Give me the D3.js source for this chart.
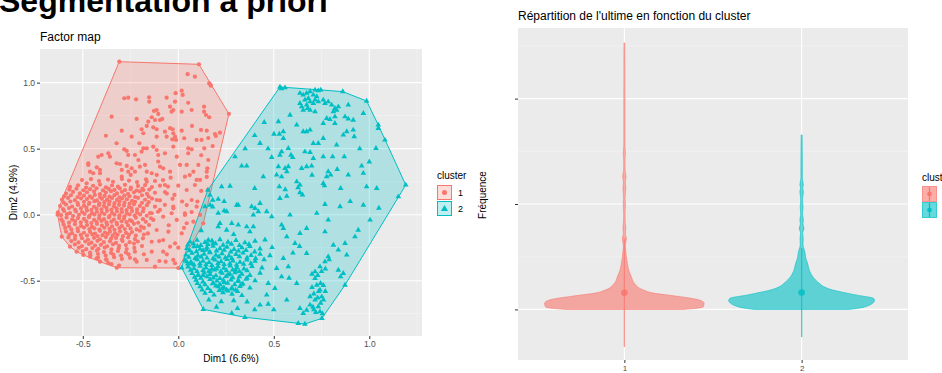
<!DOCTYPE html>
<html><head><meta charset="utf-8">
<script src="https://cdn.jsdelivr.net/npm/d3@7"></script>
<style>body{margin:0;background:#fff;}svg{display:block;font-family:"Liberation Sans",Arial,sans-serif;}</style>
</head><body><svg id="c" width="942" height="373"></svg>
<script>
const pageTitle = "Segmentation a priori";
const leftTitle = "Factor map";
const rightTitle = "Répartition de l'ultime en fonction du cluster";
const clusters = ["1","2"];
const colors = ["#F8766D","#00BFC4"];
const dimXLabel = "Dim1 (6.6%)";
const dimYLabel = "Dim2 (4.9%)";
const freqLabel = "Fréquence";
const xTicks = [-0.5,0,0.5,1.0];
const yTicks = [-0.5,0,0.5,1.0];
const xMinor = [-0.25,0.25,0.75,1.25];
const yMinor = [-0.75,-0.25,0.25,0.75];
const freqTicks = [0,1,2];
const freqMinor = [0.5,1.5,2.5];

const cluster1 = [
[-0.632,0.0],[-0.61,-0.167],[-0.462,-0.318],[-0.322,-0.402],[0.0,-0.404],[0.131,-0.065],[0.155,0.187],[0.265,0.763],[0.166,0.988],[0.108,1.139],[-0.309,1.159],
[0.049,1.064],[0.087,1.045],[0.162,0.995],[0.171,0.977],[-0.283,0.882],[-0.262,0.886],[-0.221,0.874],[-0.153,0.889],[-0.152,0.856],[-0.061,0.886],[-0.014,0.920],[0.018,0.939],[0.023,0.907],[-0.017,0.856],[0.052,0.848],[-0.043,0.818],[-0.026,0.793],[-0.035,0.780],[-0.113,0.793],[-0.127,0.786],[-0.105,0.763],[0.018,0.780],[0.070,0.793],[0.135,0.818],[0.135,0.780],[0.145,0.755],[0.162,0.738],[-0.349,0.742],[-0.218,0.725],[-0.139,0.738],[-0.122,0.717],[-0.096,0.717],[-0.084,0.725],[-0.157,0.705],[-0.165,0.672],[-0.131,0.662],[-0.113,0.647],[-0.070,0.629],[-0.043,0.655],[-0.029,0.647],[-0.026,0.617],[-0.017,0.591],[-0.012,0.566],[-0.031,0.571],[0.018,0.636],[0.072,0.672],[0.119,0.642],[0.149,0.636],[0.192,0.611],[0.197,0.596],[0.218,0.621],[-0.379,0.598],[-0.296,0.636],[-0.244,0.591],[-0.192,0.647],[-0.183,0.617],[-0.113,0.591],[-0.061,0.591],[0.031,0.579],[0.096,0.566],[0.157,0.581],
[-0.323,0.541],[-0.366,0.465],[-0.358,0.439],[-0.419,0.439],[-0.401,0.452],[-0.283,0.495],[-0.270,0.483],[-0.204,0.541],[-0.183,0.503],[-0.192,0.477],[-0.165,0.503],[-0.227,0.452],[-0.209,0.414],[-0.131,0.515],[-0.113,0.490],[-0.105,0.452],[-0.070,0.465],[-0.026,0.515],[-0.008,0.439],[0.052,0.503],[0.070,0.495],[0.052,0.465],[0.136,0.503],
[-0.471,0.389],[-0.427,0.359],[-0.410,0.339],[-0.462,0.326],[-0.445,0.314],[-0.323,0.389],[-0.305,0.384],[-0.296,0.339],[-0.270,0.369],[-0.262,0.326],[-0.249,0.301],[-0.244,0.351],[-0.227,0.326],[-0.201,0.364],[-0.174,0.377],[-0.165,0.326],[-0.139,0.314],[-0.113,0.301],[-0.096,0.364],[-0.079,0.351],[-0.043,0.326],[0.009,0.377],[0.035,0.288],[0.079,0.326],[0.105,0.377],[0.149,0.326],[0.149,0.286],[0.114,0.263],[0.087,0.225],
[0.157,0.414],[0.122,0.566],[0.152,0.351],[0.12,0.45],[0.18,0.52],
[-0.262,0.452],[-0.105,0.402],[0.044,0.377],[-0.471,0.377],[-0.410,0.314],[-0.296,0.288],[-0.515,0.162],[-0.183,0.187],[-0.113,0.111],[-0.026,0.048],[0.035,0.01],
[0.0,0.22],[-0.04,0.28],[0.06,0.3],[0.12,0.18],[0.1,0.1],[0.07,0.02],[-0.06,0.16],[-0.05,-0.08],[0.03,-0.1],[-0.1,-0.2],[-0.06,-0.3],[0.0,-0.25],[-0.18,-0.3],
[-0.504,0.262],[-0.457,0.27],[-0.415,0.255],[-0.368,0.266],[-0.342,0.249],[-0.295,0.27],[-0.258,0.258],[-0.216,0.247],[-0.169,0.268],[-0.122,0.255],[-0.080,0.262],
[-0.480,0.238],[-0.165,0.250],[-0.070,0.225],[0.044,0.187],[0.070,0.111],[0.096,0.263],
[-0.567,0.21],[-0.525,0.222],[-0.483,0.205],[-0.446,0.219],[-0.410,0.228],[-0.379,0.207],[-0.347,0.221],[-0.316,0.212],[-0.279,0.226],[-0.248,0.205],[-0.211,0.218],[-0.174,0.224],[-0.138,0.209],[-0.096,0.22],[-0.054,0.213],
[-0.57,0.19],[-0.533,0.197],[-0.497,0.185],[-0.462,0.193],[-0.428,0.2],[-0.394,0.184],[-0.364,0.195],[-0.334,0.188],[-0.306,0.199],[-0.279,0.186],[-0.25,0.192],[-0.218,0.183],[-0.188,0.197],[-0.152,0.19],
[-0.588,0.16],[-0.551,0.172],[-0.515,0.158],[-0.478,0.17],[-0.441,0.176],[-0.410,0.155],[-0.379,0.168],[-0.352,0.178],[-0.321,0.161],[-0.295,0.173],[-0.263,0.158],[-0.232,0.169],[-0.201,0.176],[-0.164,0.158],[-0.122,0.166],[-0.070,0.171],[-0.02,0.15],
[-0.598,0.138],[-0.562,0.147],[-0.527,0.134],[-0.494,0.144],[-0.463,0.139],[-0.437,0.15],[-0.41,0.133],[-0.386,0.142],[-0.36,0.136],[-0.334,0.148],[-0.308,0.131],[-0.282,0.145],[-0.255,0.14],[-0.226,0.134],[-0.19,0.147],[-0.155,0.137],
[-0.609,0.115],[-0.577,0.127],[-0.541,0.11],[-0.509,0.124],[-0.478,0.118],[-0.452,0.128],[-0.426,0.108],[-0.400,0.121],[-0.373,0.114],[-0.347,0.126],[-0.321,0.112],[-0.295,0.123],[-0.269,0.117],[-0.242,0.105],[-0.211,0.128],[-0.174,0.113],[-0.138,0.122],[-0.096,0.108],[-0.03,0.12],[0.02,0.1],
[-0.6,0.092],[-0.565,0.1],[-0.527,0.088],[-0.494,0.097],[-0.465,0.09],[-0.439,0.102],[-0.413,0.085],[-0.387,0.095],[-0.36,0.099],[-0.334,0.087],[-0.308,0.1],[-0.282,0.091],[-0.255,0.083],[-0.226,0.097],[-0.19,0.09],[-0.155,0.095],
[-0.619,0.065],[-0.588,0.077],[-0.556,0.062],[-0.525,0.074],[-0.494,0.068],[-0.468,0.081],[-0.441,0.06],[-0.415,0.072],[-0.389,0.066],[-0.363,0.078],[-0.337,0.063],[-0.310,0.075],[-0.284,0.069],[-0.258,0.058],[-0.232,0.079],[-0.201,0.066],[-0.164,0.072],[-0.122,0.061],[-0.070,0.075],
[-0.603,0.042],[-0.572,0.05],[-0.54,0.038],[-0.51,0.047],[-0.481,0.053],[-0.455,0.036],[-0.428,0.046],[-0.402,0.041],[-0.376,0.052],[-0.35,0.039],[-0.323,0.048],[-0.297,0.043],[-0.271,0.034],[-0.245,0.05],[-0.216,0.04],[-0.182,0.047],
[-0.630,0.018],[-0.598,0.028],[-0.567,0.012],[-0.536,0.025],[-0.504,0.02],[-0.478,0.031],[-0.452,0.01],[-0.426,0.022],[-0.400,0.016],[-0.373,0.029],[-0.347,0.014],[-0.321,0.026],[-0.295,0.019],[-0.269,0.008],[-0.242,0.027],[-0.216,0.015],[-0.185,0.024],[-0.148,0.012],[-0.106,0.022],
[-0.614,-0.004],[-0.583,0.004],[-0.551,-0.01],[-0.52,-0.001],[-0.491,0.006],[-0.465,-0.008],[-0.439,0.002],[-0.413,-0.006],[-0.386,0.005],[-0.36,-0.009],[-0.334,0.0],[-0.308,-0.005],[-0.282,-0.012],[-0.255,0.003],[-0.229,-0.007],[-0.2,0.002],[-0.165,-0.008],
[-0.612,-0.035],[-0.585,-0.022],[-0.556,-0.038],[-0.525,-0.026],[-0.494,-0.032],[-0.468,-0.019],[-0.441,-0.04],[-0.415,-0.028],[-0.389,-0.034],[-0.363,-0.021],[-0.337,-0.037],[-0.310,-0.025],[-0.284,-0.031],[-0.253,-0.042],[-0.222,-0.023],[-0.185,-0.034],[-0.143,-0.027],
[-0.605,-0.052],[-0.572,-0.06],[-0.54,-0.048],[-0.51,-0.058],[-0.481,-0.051],[-0.455,-0.063],[-0.428,-0.054],[-0.402,-0.047],[-0.376,-0.059],[-0.35,-0.053],[-0.323,-0.062],[-0.297,-0.05],[-0.271,-0.057],[-0.243,-0.049],[-0.21,-0.061],[-0.17,-0.054],
[-0.600,-0.075],[-0.572,-0.088],[-0.541,-0.072],[-0.509,-0.085],[-0.478,-0.079],[-0.452,-0.091],[-0.426,-0.07],[-0.400,-0.083],[-0.373,-0.077],[-0.347,-0.089],[-0.321,-0.074],[-0.295,-0.086],[-0.263,-0.08],[-0.232,-0.069],[-0.195,-0.09],[-0.153,-0.078],
[-0.592,-0.1],[-0.56,-0.112],[-0.527,-0.104],[-0.494,-0.098],[-0.465,-0.11],[-0.439,-0.103],[-0.413,-0.113],[-0.387,-0.099],[-0.36,-0.107],[-0.334,-0.115],[-0.308,-0.101],[-0.28,-0.109],[-0.25,-0.104],[-0.218,-0.112],[-0.18,-0.1],
[-0.588,-0.128],[-0.556,-0.14],[-0.525,-0.125],[-0.494,-0.137],[-0.462,-0.131],[-0.436,-0.143],[-0.410,-0.122],[-0.384,-0.135],[-0.358,-0.129],[-0.331,-0.141],[-0.305,-0.126],[-0.274,-0.138],[-0.242,-0.132],[-0.201,-0.121],[-0.159,-0.142],
[-0.57,-0.15],[-0.54,-0.161],[-0.51,-0.153],[-0.478,-0.158],[-0.45,-0.149],[-0.423,-0.162],[-0.397,-0.155],[-0.37,-0.147],[-0.344,-0.159],[-0.318,-0.152],[-0.29,-0.163],[-0.258,-0.151],[-0.222,-0.158],[-0.18,-0.15],
[-0.575,-0.172],[-0.541,-0.185],[-0.504,-0.178],[-0.473,-0.19],[-0.441,-0.175],[-0.410,-0.186],[-0.379,-0.17],[-0.352,-0.182],[-0.326,-0.176],[-0.295,-0.188],[-0.263,-0.173],[-0.227,-0.185],[-0.185,-0.179],
[-0.56,-0.2],[-0.522,-0.21],[-0.487,-0.203],[-0.455,-0.212],[-0.423,-0.198],[-0.39,-0.208],[-0.358,-0.202],[-0.326,-0.213],[-0.292,-0.2],[-0.255,-0.208],[-0.212,-0.203],
[-0.541,-0.225],[-0.504,-0.238],[-0.468,-0.222],[-0.436,-0.234],[-0.405,-0.228],[-0.373,-0.24],[-0.342,-0.224],[-0.310,-0.236],[-0.274,-0.23],[-0.232,-0.219],[-0.190,-0.238],
[-0.52,-0.25],[-0.482,-0.261],[-0.45,-0.253],[-0.418,-0.258],[-0.385,-0.249],[-0.35,-0.262],[-0.312,-0.255],[-0.27,-0.26],[-0.23,-0.252],
[-0.500,-0.276],[-0.462,-0.288],[-0.426,-0.272],[-0.389,-0.284],[-0.352,-0.29],[-0.316,-0.275],[-0.274,-0.286],[-0.227,-0.28],
[-0.46,-0.305],[-0.42,-0.298],[-0.38,-0.31],[-0.34,-0.302],[-0.3,-0.31],[-0.26,-0.3],
[-0.420,-0.326],[-0.378,-0.338],[-0.336,-0.322],[-0.295,-0.335],[-0.253,-0.327],[-0.350,-0.375],[-0.310,-0.385],
[-0.367,-0.366],[-0.218,-0.356],[-0.227,-0.338],[-0.165,-0.343],[-0.122,-0.394],[-0.099,-0.351],[-0.066,-0.356],[-0.026,-0.343],[-0.017,-0.368],[-0.139,-0.280],[-0.079,-0.280],[-0.043,-0.242],[-0.017,-0.217],[-0.079,-0.192],[-0.139,-0.205],[-0.113,-0.116],[-0.052,-0.129],[0.018,-0.141],[0.044,-0.065],[0.079,-0.053],[0.096,0.061],[0.044,0.073],[-0.026,0.061],[-0.035,0.011],[-0.079,-0.015],[-0.096,0.036],[-0.139,0.011],[-0.131,-0.040],[-0.008,-0.040],[0.035,-0.002],[0.114,-0.002],[-0.532,-0.280],[-0.567,-0.242],[-0.497,-0.305],[-0.427,-0.330],[-0.410,-0.356],[-0.375,-0.343]
];

const cluster2 = [
[0.018,-0.402],[0.155,0.187],[0.532,0.967],[0.559,0.962],[0.861,0.932],[0.986,0.861],[1.047,0.680],[1.191,0.225],[0.752,-0.785],[0.663,-0.828],[0.628,-0.823],[0.349,-0.777],[0.280,-0.747],[0.131,-0.717],
[0.54,0.955],[0.637,0.920],[0.654,0.907],[0.672,0.920],[0.690,0.932],[0.716,0.945],[0.733,0.939],[0.746,0.945],[0.707,0.907],[0.725,0.894],[0.681,0.882],[0.663,0.869],[0.637,0.844],[0.646,0.818],[0.672,0.831],[0.690,0.856],[0.707,0.844],[0.716,0.869],[0.733,0.856],[0.677,0.806],[0.690,0.793],[0.716,0.780],[0.654,0.793],[0.759,0.869],[0.768,0.844],[0.785,0.856],[0.803,0.831],[0.820,0.806],[0.829,0.793],[0.812,0.780],[0.838,0.818],[0.890,0.831],[0.969,0.768],[0.585,0.755],[0.524,0.705],[0.777,0.730],[0.794,0.722],[0.820,0.742],[0.873,0.742],[0.890,0.725],[0.916,0.717],[0.820,0.692],[0.759,0.692],[1.047,0.654],[0.916,0.642],[0.921,0.591],[0.864,0.604],[0.882,0.629],[0.690,0.642],[0.654,0.629],[0.672,0.629],[0.550,0.629],[0.501,0.611],[0.529,0.611],[0.550,0.579],[0.759,0.579],[0.707,0.541],[0.733,0.541],[0.829,0.528],[1.082,0.566],[0.428,0.541],[0.576,0.503],[0.663,0.477],[0.69,0.472],[0.541,0.477],[0.532,0.452],[0.590,0.452],[0.599,0.434],[0.489,0.434],[0.707,0.427],[0.759,0.439],[0.808,0.439],[0.869,0.439],[1.035,0.503],[0.332,0.369],[0.358,0.369],[0.297,0.439],[0.524,0.364],[0.559,0.351],[0.576,0.364],[0.646,0.351],[0.672,0.364],[0.698,0.369],[0.445,0.288],[0.515,0.301],[0.541,0.288],[0.568,0.326],[0.785,0.326],[0.798,0.301],[0.777,0.288],[0.832,0.344],[0.890,0.301],[0.960,0.369],[0.969,0.314],[0.759,0.238],[0.765,0.22],[0.637,0.225],[0.627,0.205],[0.986,0.212],[1.039,0.200],[1.152,0.136],[0.227,0.212],[0.271,0.217],[0.166,0.149],[0.18,0.11],[0.209,0.117],[0.24,0.1],[0.314,0.073],[0.384,0.061],[0.428,0.086],[0.529,0.212],[0.56,0.19],[0.532,0.124],[0.568,0.14],[0.62,0.25],[0.637,0.167],[0.65,0.15],[0.768,0.079],[0.969,0.073],
[0.45,0.7],[0.62,0.68],[0.4,0.6],[0.35,0.5],[0.47,0.5],[0.95,0.5],[1.0,0.4],[0.4,0.2],[0.7,0.3],[0.85,0.2],[0.9,0.1],[1.05,0.05],
[0.166,0.073],[0.209,0.011],[0.253,0.023],[0.306,0.073],[0.218,-0.065],[0.280,-0.065],[0.314,-0.078],[0.358,-0.091],[0.393,-0.091],[0.375,-0.129],[0.402,0.048],[0.419,0.023],[0.393,-0.002],[0.463,0.023],[0.489,-0.015],[0.541,-0.078],[0.550,-0.103],[0.585,-0.002],[0.637,-0.141],[0.672,-0.103],[0.725,0.011],[0.768,-0.129],[0.785,-0.040],[0.847,0.061],[0.925,-0.167],[0.942,-0.116],[1.004,-0.040],[0.157,-0.192],
[0.812,-0.230],[0.838,-0.267],[0.873,-0.217],[0.882,-0.305],[0.785,-0.318],[0.768,-0.356],[0.79,-0.34],[0.742,-0.394],[0.716,-0.432],[0.75,-0.43],[0.77,-0.41],[0.838,-0.419],[0.864,-0.444],[0.85,-0.47],[0.873,-0.533],[0.716,-0.482],[0.725,-0.533],[0.745,-0.52],[0.76,-0.535],[0.742,-0.570],[0.77,-0.58],[0.751,-0.621],[0.716,-0.646],[0.76,-0.645],[0.690,-0.684],[0.705,-0.70],[0.733,-0.697],[0.742,-0.735],[0.755,-0.75],[0.72,-0.74],[0.672,-0.722],[0.637,-0.709],[0.654,-0.747],
[0.70,-0.45],[0.73,-0.46],[0.70,-0.55],[0.735,-0.58],[0.71,-0.6],[0.73,-0.63],[0.745,-0.67],[0.71,-0.72],[0.69,-0.62],
[0.568,-0.167],[0.611,-0.217],[0.635,-0.24],[0.672,-0.293],[0.60,-0.29],[0.550,-0.330],[0.576,-0.394],[0.515,-0.406],[0.541,-0.470],[0.58,-0.48],[0.620,-0.520],[0.471,-0.520],[0.506,-0.558],[0.463,-0.608],[0.568,-0.646],[0.428,-0.684],[0.471,-0.677],[0.5,-0.72],[0.4,-0.72],
[0.044,-0.356],[0.07,-0.37],[0.096,-0.330],[0.149,-0.267],[0.10,-0.24],[0.183,-0.217],[0.209,-0.091],[0.253,-0.116],[0.29,-0.15],[0.12,-0.12],[0.140,0.061],[0.18,0.06],[0.24,0.03],[0.105,-0.457],[0.13,-0.46],[0.166,-0.432],[0.2,-0.41],[0.236,-0.495],[0.27,-0.45],[0.30,-0.42],[0.314,-0.495],[0.183,-0.520],[0.209,-0.545],[0.23,-0.56],[0.253,-0.570],[0.28,-0.555],[0.31,-0.58],[0.33,-0.53],
[0.061,-0.205],[0.098,-0.192],[0.140,-0.21],[0.176,-0.198],[0.218,-0.188],[0.260,-0.207],[0.302,-0.195],[0.349,-0.212],[0.402,-0.2],[0.454,-0.19],
[0.05,-0.228],[0.08,-0.22],[0.118,-0.232],[0.155,-0.224],[0.195,-0.219],[0.235,-0.23],[0.278,-0.222],[0.32,-0.233],[0.37,-0.225],
[0.045,-0.255],[0.082,-0.242],[0.114,-0.26],[0.150,-0.248],[0.182,-0.238],[0.218,-0.257],[0.255,-0.245],[0.292,-0.262],[0.333,-0.25],[0.375,-0.24],[0.428,-0.258],[0.491,-0.248],
[0.06,-0.272],[0.095,-0.28],[0.13,-0.27],[0.165,-0.283],[0.2,-0.274],[0.24,-0.268],[0.275,-0.281],[0.315,-0.275],[0.355,-0.27],[0.4,-0.282],
[0.040,-0.305],[0.072,-0.292],[0.103,-0.31],[0.135,-0.298],[0.166,-0.288],[0.197,-0.307],[0.229,-0.295],[0.265,-0.312],[0.302,-0.3],[0.339,-0.29],[0.381,-0.308],[0.428,-0.298],[0.480,-0.31],
[0.055,-0.322],[0.088,-0.33],[0.12,-0.319],[0.15,-0.328],[0.182,-0.332],[0.213,-0.32],[0.246,-0.327],[0.28,-0.33],[0.32,-0.318],[0.36,-0.327],[0.405,-0.33],
[0.035,-0.345],[0.066,-0.358],[0.098,-0.34],[0.129,-0.352],[0.161,-0.362],[0.192,-0.343],[0.224,-0.355],[0.255,-0.338],[0.286,-0.35],[0.323,-0.36],[0.359,-0.342],[0.402,-0.352],[0.449,-0.34],
[0.05,-0.372],[0.082,-0.38],[0.113,-0.37],[0.145,-0.378],[0.176,-0.384],[0.208,-0.368],[0.24,-0.377],[0.27,-0.371],[0.305,-0.381],[0.342,-0.374],[0.38,-0.37],
[0.051,-0.395],[0.082,-0.408],[0.114,-0.39],[0.145,-0.402],[0.176,-0.412],[0.208,-0.393],[0.239,-0.405],[0.271,-0.388],[0.307,-0.4],[0.344,-0.41],[0.386,-0.392],[0.438,-0.402],
[0.065,-0.42],[0.098,-0.43],[0.13,-0.422],[0.16,-0.428],[0.19,-0.418],[0.222,-0.432],[0.252,-0.424],[0.285,-0.418],[0.32,-0.43],[0.36,-0.423],
[0.072,-0.445],[0.103,-0.458],[0.135,-0.44],[0.166,-0.452],[0.197,-0.462],[0.229,-0.443],[0.260,-0.455],[0.297,-0.438],[0.333,-0.45],[0.375,-0.46],[0.428,-0.442],
[0.085,-0.472],[0.118,-0.48],[0.15,-0.47],[0.183,-0.478],[0.218,-0.483],[0.25,-0.468],[0.285,-0.477],[0.32,-0.47],[0.36,-0.48],
[0.093,-0.495],[0.129,-0.508],[0.166,-0.49],[0.202,-0.502],[0.239,-0.512],[0.276,-0.493],[0.313,-0.505],[0.355,-0.488],[0.402,-0.5],
[0.1,-0.52],[0.14,-0.53],[0.18,-0.522],[0.218,-0.528],[0.258,-0.518],[0.295,-0.53],[0.338,-0.524],
[0.114,-0.545],[0.155,-0.558],[0.197,-0.54],[0.239,-0.552],[0.281,-0.562],[0.323,-0.543],[0.375,-0.555],
[0.125,-0.57],[0.17,-0.58],[0.215,-0.573],[0.26,-0.578],[0.3,-0.57],
[0.140,-0.595],[0.187,-0.608],[0.234,-0.59],[0.281,-0.602],[0.333,-0.612],
[0.160,-0.645],[0.225,-0.658],[0.29,-0.65],[0.36,-0.66],[0.2,-0.70],[0.31,-0.71]
];

// Violin profiles: ultime value (relative axis units) and relative density (0..1)
const violin1Values  = [0,0.01,0.026,0.058,0.089,0.105,0.137,0.153,0.184,0.248,0.31,0.374,0.437,0.5,0.564,0.606,0.675,0.715,0.772,0.829,0.924,0.991,1.057,1.152,1.209,1.259,1.323,1.417,1.481,1.55,1.797,1.987,2.177,2.366,2.528];
const violin1Density = [0.74,0.9,0.99,1.0,0.94,0.84,0.54,0.38,0.24,0.125,0.088,0.054,0.038,0.025,0.016,0.012,0.026,0.011,0.018,0.01,0.009,0.014,0.009,0.018,0.011,0.021,0.009,0.008,0.014,0.007,0.007,0.007,0.006,0.006,0.005];
const violin2Values  = [0,0.013,0.026,0.058,0.084,0.105,0.137,0.165,0.184,0.217,0.248,0.31,0.374,0.437,0.478,0.5,0.546,0.564,0.611,0.675,0.725,0.769,0.81,0.848,0.905,0.974,1.038,1.117,1.152,1.18,1.247,1.37,1.512,1.655];
const violin2Density = [0.6,0.73,0.8,0.89,0.915,0.9,0.68,0.5,0.39,0.275,0.22,0.14,0.096,0.075,0.056,0.05,0.04,0.034,0.017,0.02,0.013,0.03,0.016,0.022,0.011,0.018,0.011,0.022,0.013,0.022,0.009,0.009,0.008,0.006];
const meanValues = [0.158,0.160];
const rangeLow = [-0.357,-0.263];
const rangeHigh = [0.673,0.583];

const svg = d3.select("#c");
const gridMajor = "#FFFFFF", gridMinor = "#F5F5F5", panelBg = "#EBEBEB", tickCol = "#4D4D4D";

// Page title
svg.append("text").attr("x",-1).attr("y",12).attr("font-size",32).attr("font-weight","bold").attr("fill","#000").text(pageTitle);

// ---------- Left: factor map ----------
const L = {x0:40,x1:422,y0:49,y1:336};
const xs = d3.scaleLinear().domain([-0.724,1.276]).range([L.x0,L.x1]);
const ys = d3.scaleLinear().domain([-0.919,1.255]).range([L.y1,L.y0]);
const gl = svg.append("g");
gl.append("rect").attr("x",L.x0).attr("y",L.y0).attr("width",L.x1-L.x0).attr("height",L.y1-L.y0).attr("fill",panelBg);
gl.selectAll(".vmin").data(xMinor).enter().append("line").attr("x1",d=>xs(d)).attr("x2",d=>xs(d)).attr("y1",L.y0).attr("y2",L.y1).attr("stroke",gridMinor).attr("stroke-width",0.6);
gl.selectAll(".hmin").data(yMinor).enter().append("line").attr("y1",d=>ys(d)).attr("y2",d=>ys(d)).attr("x1",L.x0).attr("x2",L.x1).attr("stroke",gridMinor).attr("stroke-width",0.6);
gl.selectAll(".vmaj").data(xTicks).enter().append("line").attr("x1",d=>xs(d)).attr("x2",d=>xs(d)).attr("y1",L.y0).attr("y2",L.y1).attr("stroke",gridMajor).attr("stroke-width",1.1);
gl.selectAll(".hmaj").data(yTicks).enter().append("line").attr("y1",d=>ys(d)).attr("y2",d=>ys(d)).attr("x1",L.x0).attr("x2",L.x1).attr("stroke",gridMajor).attr("stroke-width",1.1);

const sets = [cluster1, cluster2];
sets.forEach((pts,i)=>{
  const hull = d3.polygonHull(pts.map(p=>[xs(p[0]),ys(p[1])]));
  gl.append("path").attr("d","M"+hull.join("L")+"Z").attr("fill",colors[i]).attr("fill-opacity",0.25).attr("stroke",colors[i]).attr("stroke-width",1);
});
gl.append("g").selectAll("circle").data(cluster1).enter().append("circle")
  .attr("cx",d=>xs(d[0])).attr("cy",d=>ys(d[1])).attr("r",2.1).attr("fill",colors[0]);
const tri = d3.symbol().type(d3.symbolTriangle).size(14);
gl.append("g").selectAll("path").data(cluster2).enter().append("path")
  .attr("d",tri).attr("transform",d=>`translate(${xs(d[0])},${ys(d[1])})`).attr("fill",colors[1]);

const fmt = d=>d.toFixed(1);
const ax = gl.append("g").attr("transform",`translate(0,${L.y1})`).call(d3.axisBottom(xs).tickValues(xTicks).tickSize(3).tickPadding(2).tickFormat(fmt));
const ay = gl.append("g").attr("transform",`translate(${L.x0},0)`).call(d3.axisLeft(ys).tickValues(yTicks).tickSize(3).tickPadding(2).tickFormat(fmt));
[ax,ay].forEach(a=>{a.select(".domain").remove();a.selectAll("line").attr("stroke","#333");a.selectAll("text").attr("fill",tickCol).attr("font-size",8.5).attr("font-family","Liberation Sans, Arial, sans-serif");});

gl.append("text").attr("x",L.x0).attr("y",41).attr("font-size",12).attr("fill","#000").text(leftTitle);
gl.append("text").attr("x",(L.x0+L.x1)/2).attr("y",362).attr("text-anchor","middle").attr("font-size",10).attr("fill","#000").text(dimXLabel);
gl.append("text").attr("transform",`translate(17,${(L.y0+L.y1)/2}) rotate(-90)`).attr("text-anchor","middle").attr("font-size",10).attr("fill","#000").text(dimYLabel);

// left legend
const lg = svg.append("g").attr("transform","translate(437,0)");
lg.append("text").attr("x",0).attr("y",179).attr("font-size",10).text("cluster");
clusters.forEach((c,i)=>{
  const y0 = 185 + i*16;
  lg.append("rect").attr("x",0.5).attr("y",y0+0.5).attr("width",14).attr("height",14).attr("fill",colors[i]).attr("fill-opacity",0.25).attr("stroke",colors[i]).attr("stroke-width",1);
  if(i===0) lg.append("circle").attr("cx",7.5).attr("cy",y0+7.5).attr("r",2.5).attr("fill",colors[0]);
  else lg.append("path").attr("d",d3.symbol().type(d3.symbolTriangle).size(22)()).attr("transform",`translate(7.5,${y0+8})`).attr("fill",colors[1]);
  lg.append("text").attr("x",21).attr("y",y0+11).attr("font-size",9).attr("fill","#000").text(c);
});

// ---------- Right: violins ----------
const R = {x0:518,x1:908,y0:28,y1:360};
const xb = d3.scalePoint().domain(clusters).range([R.x0,R.x1]).padding(0.6);
const yv = d3.scaleLinear().domain([-0.48,2.67]).range([R.y1,R.y0]);
const gr = svg.append("g");
gr.append("rect").attr("x",R.x0).attr("y",R.y0).attr("width",R.x1-R.x0).attr("height",R.y1-R.y0).attr("fill",panelBg);
gr.selectAll(".hm").data(freqMinor).enter().append("line").attr("y1",d=>yv(d)).attr("y2",d=>yv(d)).attr("x1",R.x0).attr("x2",R.x1).attr("stroke",gridMinor).attr("stroke-width",0.6);
gr.selectAll(".hM").data(freqTicks).enter().append("line").attr("y1",d=>yv(d)).attr("y2",d=>yv(d)).attr("x1",R.x0).attr("x2",R.x1).attr("stroke",gridMajor).attr("stroke-width",1.1);
gr.selectAll(".vM").data(clusters).enter().append("line").attr("x1",d=>xb(d)).attr("x2",d=>xb(d)).attr("y1",R.y0).attr("y2",R.y1).attr("stroke",gridMajor).attr("stroke-width",1.1);

const halfMax = xb.step()*0.45;
const vals = [violin1Values, violin2Values], dens = [violin1Density, violin2Density];
clusters.forEach((c,i)=>{
  const cx = xb(c);
  const prof = vals[i].map((v,j)=>({v, d:dens[i][j]}));
  const area = d3.area().curve(d3.curveMonotoneY)
    .y(p=>yv(p.v)).x0(p=>cx - p.d*halfMax).x1(p=>cx + p.d*halfMax);
  gr.append("path").attr("d",area(prof)).attr("fill",colors[i]).attr("fill-opacity",0.6).attr("stroke",colors[i]).attr("stroke-opacity",0.7).attr("stroke-width",0.8);
  gr.append("line").attr("x1",cx).attr("x2",cx).attr("y1",yv(rangeLow[i])).attr("y2",yv(rangeHigh[i])).attr("stroke",colors[i]).attr("stroke-opacity",0.75).attr("stroke-width",1.3);
  gr.append("circle").attr("cx",cx).attr("cy",yv(meanValues[i])).attr("r",3.3).attr("fill",colors[i]).attr("fill-opacity",0.85);
});
const bx = gr.append("g").attr("transform",`translate(0,${R.y1})`).call(d3.axisBottom(xb).tickSize(3).tickPadding(2));
const by = gr.append("g").attr("transform",`translate(${R.x0},0)`).call(d3.axisLeft(yv).tickValues(freqTicks).tickSize(3).tickFormat(""));
[bx,by].forEach(a=>{a.select(".domain").remove();a.selectAll("line").attr("stroke","#333");a.selectAll("text").attr("fill",tickCol).attr("font-size",8).attr("font-family","Liberation Sans, Arial, sans-serif");});

gr.append("text").attr("x",R.x0).attr("y",20).attr("font-size",12).attr("fill","#000").text(rightTitle);
gr.append("text").attr("transform",`translate(486,195) rotate(-90)`).attr("text-anchor","middle").attr("font-size",10).attr("fill","#000").text(freqLabel);

const rg = svg.append("g").attr("transform","translate(922,0)");
rg.append("text").attr("x",0).attr("y",181).attr("font-size",10).text("cluster");
clusters.forEach((c,i)=>{
  const y0 = 186 + i*16;
  rg.append("rect").attr("x",0.5).attr("y",y0+0.5).attr("width",14).attr("height",15).attr("fill",colors[i]).attr("fill-opacity",0.6).attr("stroke",colors[i]).attr("stroke-opacity",0.7);
  rg.append("line").attr("x1",7.5).attr("x2",7.5).attr("y1",y0+1).attr("y2",y0+15).attr("stroke",colors[i]).attr("stroke-width",1.2);
  rg.append("circle").attr("cx",7.5).attr("cy",y0+8).attr("r",2.3).attr("fill",colors[i]);
  rg.append("text").attr("x",21).attr("y",y0+11).attr("font-size",9).text(c);
});
</script></body></html>
